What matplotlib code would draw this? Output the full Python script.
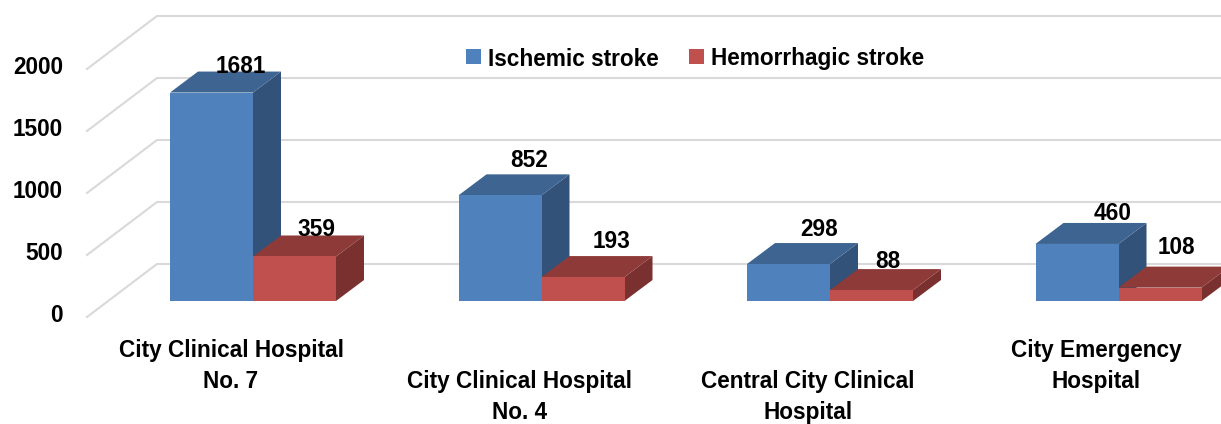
import matplotlib
matplotlib.use('Agg')
import matplotlib.pyplot as plt
from matplotlib.patches import Polygon

plt.rcParams['font.family'] = ['Liberation Sans', 'DejaVu Sans']

hospitals = ['City Clinical Hospital\nNo. 7', 'City Clinical Hospital\nNo. 4',
             'Central City Clinical\nHospital', 'City Emergency\nHospital']
ischemic = [1681, 852, 298, 460]
hemorrhagic = [359, 193, 88, 108]
y_ticks = [0, 500, 1000, 1500, 2000]
series_names = ['Ischemic stroke', 'Hemorrhagic stroke']

# label offsets from the bar top, pixels (placed by hand in the original)
blue_off = [(29, 26), (29, 35), (31, 35), (36, 30)]
red_off = [(22, 27), (29, 36), (16, 29), (16, 40)]
label_y = [366, 397, 397, 366]

W, H = 1221, 424
PX_X = 288.5        # pixels per category
PX_Y = 0.124        # pixels per value unit
X0 = 253            # pixel of first category
Y0 = 264            # pixel of zero on the back wall
FS = 16.3


def px_x(p):
    return (p - X0) / PX_X


def px_dy(p):
    return p / PX_Y


fig = plt.figure(figsize=(W / 100, H / 100), dpi=100)
ax = fig.add_axes([0, 0, 1, 1])
ax.set_xlim(px_x(0), px_x(W))
ax.set_ylim(px_dy(Y0 - H), px_dy(Y0))
ax.axis('off')

grid = '#D9D9D9'
back_x, front_x = px_x(157), px_x(87)
wall_dy = px_dy(53)
for t in y_ticks:
    ax.plot([front_x, back_x, px_x(W + 5)], [t - wall_dy, t, t], color=grid, lw=1.5, zorder=1,
            solid_joinstyle='miter')
    ax.text(px_x(63), t - wall_dy + px_dy(1), str(t), ha='right', va='center',
            fontsize=FS, fontweight='bold', color='black', zorder=10)

bw = 83 / PX_X
depth_x = 28 / PX_X
depth_y = px_dy(21)
base = px_dy(264 - 301)


def bar3d(x, val, front, top, side, label):
    # side and top faces first, then the front from ax.bar
    yt = base + val
    ax.add_patch(Polygon([(x + bw, base), (x + bw + depth_x, base + depth_y),
                          (x + bw + depth_x, yt + depth_y), (x + bw, yt)],
                         closed=True, fc=side, ec='none', zorder=3))
    ax.add_patch(Polygon([(x, yt), (x + depth_x, yt + depth_y),
                          (x + bw + depth_x, yt + depth_y), (x + bw, yt)],
                         closed=True, fc=top, ec='none', zorder=3))
    return ax.bar(x, val, bw, bottom=base, align='edge', color=front, zorder=3, label=label)


handles = []
for i in range(len(hospitals)):
    b1 = bar3d(i - bw, ischemic[i], '#4F81BD', '#3E6492', '#335279', series_names[0])
    b2 = bar3d(i, hemorrhagic[i], '#C0504D', '#8E3A38', '#7A302E', series_names[1])
    if i == 0:
        handles = [b1, b2]
    ax.annotate(str(ischemic[i]), (i - bw / 2, base + ischemic[i]),
                xytext=(blue_off[i][0] * 0.72, blue_off[i][1] * 0.72), textcoords='offset points',
                ha='center', va='center', fontsize=FS, fontweight='bold', zorder=11)
    ax.annotate(str(hemorrhagic[i]), (i + bw / 2, base + hemorrhagic[i]),
                xytext=(red_off[i][0] * 0.72, red_off[i][1] * 0.72), textcoords='offset points',
                ha='center', va='center', fontsize=FS, fontweight='bold', zorder=11)
    ax.text(i - 22 / PX_X, px_dy(Y0 - label_y[i]), hospitals[i], ha='center', va='center',
            fontsize=FS, fontweight='bold', linespacing=1.48, zorder=10)

leg = ax.legend(handles=handles, labels=series_names, ncol=2, frameon=False, prop={'size': FS, 'weight': 'bold'},
                loc='center left', bbox_to_anchor=(466 / W, 1 - 58 / H), handlelength=0.65, handleheight=0.65,
                handletextpad=0.31, columnspacing=1.35, borderaxespad=0, borderpad=0)
leg._legend_handle_box.align = 'top'
# nudge first entry so both texts sit on one line
leg.get_texts()[0].set_y(-2)

fig.savefig('out.png', dpi=100)
